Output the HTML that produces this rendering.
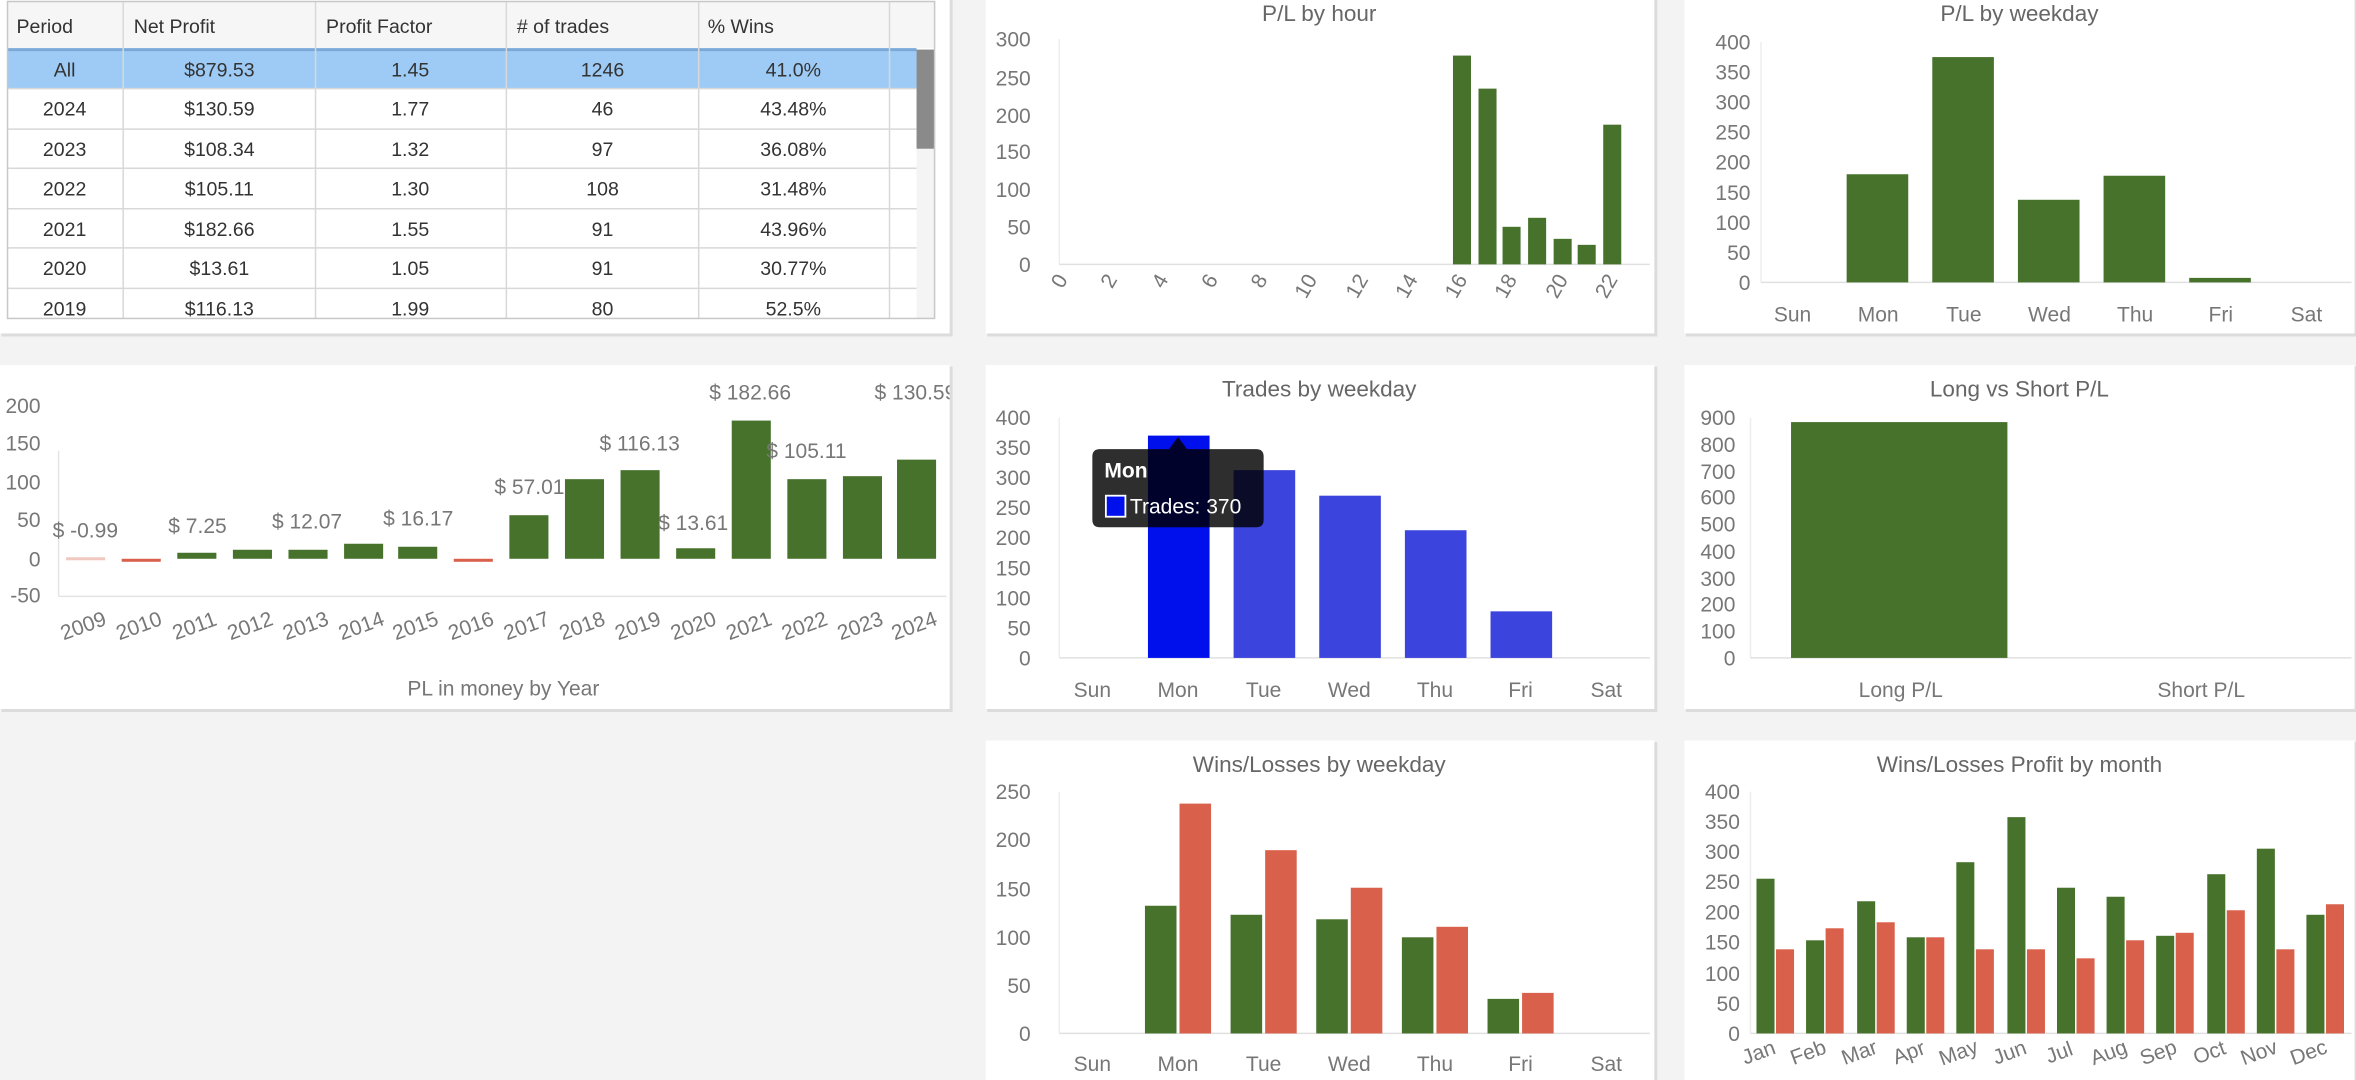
<!DOCTYPE html>
<html><head><meta charset="utf-8"><style>
html,body{margin:0;padding:0;background:#f3f3f3;}
svg{display:block;}
text{font-family:"Liberation Sans Narrow","Liberation Sans",sans-serif;fill:#777;font-size:14px;}
.t{font-family:"Liberation Sans",sans-serif;fill:#333;font-size:13px;}
.ttl{fill:#666;font-size:15px;text-anchor:middle;}
.yl{text-anchor:end;}
.xl{text-anchor:middle;}
.g{fill:#46722b;}
.r{fill:#d9604a;}
.b{fill:#3b44dc;}
.dl{fill:#777;font-size:14px;}
</style></head><body>
<svg width="2356" height="1080" viewBox="0 0 1568 719" preserveAspectRatio="none" xmlns="http://www.w3.org/2000/svg">
<defs><clipPath id="cy"><rect x="0" y="243" width="632" height="229"/></clipPath></defs>
<rect width="1568" height="719" fill="#f3f3f3"/>
<!-- panel shadows -->
<g fill="#dcdcdc">
<rect x="1" y="-2" width="633" height="226"/><rect x="1" y="244" width="633" height="230"/>
<rect x="657" y="-2" width="446" height="226"/><rect x="1122" y="-2" width="447" height="226"/>
<rect x="657" y="244" width="446" height="230"/><rect x="1122" y="244" width="447" height="230"/>
<rect x="657" y="494" width="446" height="240"/><rect x="1122" y="494" width="447" height="240"/>
</g>
<g fill="#fff">
<rect x="0" y="-2" width="632" height="224"/><rect x="0" y="243" width="632" height="229"/>
<rect x="656" y="-2" width="445" height="224"/><rect x="1121" y="-2" width="446" height="224"/>
<rect x="656" y="243" width="445" height="229"/><rect x="1121" y="243" width="446" height="229"/>
<rect x="656" y="493" width="445" height="240"/><rect x="1121" y="493" width="446" height="240"/>
</g>

<!-- TABLE -->
<rect x="5" y="1" width="617" height="31" fill="#f6f6f6"/>
<rect x="5" y="33" width="605" height="26" fill="#9ecbf5"/>
<line x1="5" y1="33" x2="610" y2="33" stroke="#7aa8d8" stroke-width="2"/>
<rect x="610" y="33" width="12" height="179" fill="#f4f4f4"/>
<rect x="610" y="33" width="12" height="66" fill="#8a8a8a"/>
<g stroke="#d8d8d8" stroke-width="1">
<line x1="5" y1="59" x2="610" y2="59"/><line x1="5" y1="86" x2="610" y2="86"/><line x1="5" y1="112" x2="610" y2="112"/>
<line x1="5" y1="139" x2="610" y2="139"/><line x1="5" y1="165" x2="610" y2="165"/><line x1="5" y1="192" x2="610" y2="192"/>
<line x1="82" y1="1" x2="82" y2="212"/><line x1="210" y1="1" x2="210" y2="212"/><line x1="337" y1="1" x2="337" y2="212"/>
<line x1="465" y1="1" x2="465" y2="212"/><line x1="592" y1="1" x2="592" y2="212"/>
</g>
<rect x="5" y="1" width="617" height="211" fill="none" stroke="#c8c8c8"/>
<g class="t">
<text class="t" x="11" y="22">Period</text><text class="t" x="89" y="22">Net Profit</text><text class="t" x="217" y="22">Profit Factor</text><text class="t" x="344" y="22">&#35; of trades</text><text class="t" x="471" y="22">% Wins</text>
</g>
<g class="t" text-anchor="middle">
<text class="t" x="43" y="51">All</text><text class="t" x="146" y="51">$879.53</text><text class="t" x="273" y="51">1.45</text><text class="t" x="401" y="51">1246</text><text class="t" x="528" y="51">41.0%</text>
<text class="t" x="43" y="77">2024</text><text class="t" x="146" y="77">$130.59</text><text class="t" x="273" y="77">1.77</text><text class="t" x="401" y="77">46</text><text class="t" x="528" y="77">43.48%</text>
<text class="t" x="43" y="104">2023</text><text class="t" x="146" y="104">$108.34</text><text class="t" x="273" y="104">1.32</text><text class="t" x="401" y="104">97</text><text class="t" x="528" y="104">36.08%</text>
<text class="t" x="43" y="130">2022</text><text class="t" x="146" y="130">$105.11</text><text class="t" x="273" y="130">1.30</text><text class="t" x="401" y="130">108</text><text class="t" x="528" y="130">31.48%</text>
<text class="t" x="43" y="157">2021</text><text class="t" x="146" y="157">$182.66</text><text class="t" x="273" y="157">1.55</text><text class="t" x="401" y="157">91</text><text class="t" x="528" y="157">43.96%</text>
<text class="t" x="43" y="183">2020</text><text class="t" x="146" y="183">$13.61</text><text class="t" x="273" y="183">1.05</text><text class="t" x="401" y="183">91</text><text class="t" x="528" y="183">30.77%</text>
<text class="t" x="43" y="210">2019</text><text class="t" x="146" y="210">$116.13</text><text class="t" x="273" y="210">1.99</text><text class="t" x="401" y="210">80</text><text class="t" x="528" y="210">52.5%</text>
</g>

<!-- PL by year -->
<g clip-path="url(#cy)">
<g class="yl"><text x="27" y="275">200</text><text x="27" y="300">150</text><text x="27" y="326">100</text><text x="27" y="351">50</text><text x="27" y="377">0</text><text x="27" y="401">-50</text></g>
<line x1="39" y1="300" x2="39" y2="397" stroke="#e4e4e4"/>
<line x1="39" y1="397" x2="630" y2="397" stroke="#e4e4e4"/>
<rect x="44" y="371" width="26" height="2" fill="#f0c8c0"/>
<rect class="r" x="81" y="372" width="26" height="2"/>
<rect class="g" x="118" y="368" width="26" height="4"/>
<rect class="g" x="155" y="366" width="26" height="6"/>
<rect class="g" x="192" y="366" width="26" height="6"/>
<rect class="g" x="229" y="362" width="26" height="10"/>
<rect class="g" x="265" y="364" width="26" height="8"/>
<rect class="r" x="302" y="372" width="26" height="2"/>
<rect class="g" x="339" y="343" width="26" height="29"/>
<rect class="g" x="376" y="319" width="26" height="53"/>
<rect class="g" x="413" y="313" width="26" height="59"/>
<rect class="g" x="450" y="365" width="26" height="7"/>
<rect class="g" x="487" y="280" width="26" height="92"/>
<rect class="g" x="524" y="319" width="26" height="53"/>
<rect class="g" x="561" y="317" width="26" height="55"/>
<rect class="g" x="597" y="306" width="26" height="66"/>
<g class="dl"><text x="35" y="358">$ -0.99</text><text x="112" y="355">$ 7.25</text><text x="181" y="352">$ 12.07</text><text x="255" y="350">$ 16.17</text><text x="329" y="329">$ 57.01</text><text x="399" y="300">$ 116.13</text><text x="438" y="353">$ 13.61</text><text x="472" y="266">$ 182.66</text><text x="510" y="305">$ 105.11</text><text x="582" y="266">$ 130.59</text></g>
<g class="xl">
<text transform="translate(57,421) rotate(-20)">2009</text><text transform="translate(94,421) rotate(-20)">2010</text><text transform="translate(131,421) rotate(-20)">2011</text><text transform="translate(168,421) rotate(-20)">2012</text><text transform="translate(205,421) rotate(-20)">2013</text><text transform="translate(242,421) rotate(-20)">2014</text><text transform="translate(278,421) rotate(-20)">2015</text><text transform="translate(315,421) rotate(-20)">2016</text><text transform="translate(352,421) rotate(-20)">2017</text><text transform="translate(389,421) rotate(-20)">2018</text><text transform="translate(426,421) rotate(-20)">2019</text><text transform="translate(463,421) rotate(-20)">2020</text><text transform="translate(500,421) rotate(-20)">2021</text><text transform="translate(537,421) rotate(-20)">2022</text><text transform="translate(574,421) rotate(-20)">2023</text><text transform="translate(610,421) rotate(-20)">2024</text>
</g>
<text class="xl" x="335" y="463">PL in money by Year</text>
</g>

<!-- P/L by hour -->
<text class="ttl" x="878" y="14">P/L by hour</text>
<g class="yl"><text x="686" y="31">300</text><text x="686" y="57">250</text><text x="686" y="82">200</text><text x="686" y="106">150</text><text x="686" y="131">100</text><text x="686" y="156">50</text><text x="686" y="181">0</text></g>
<line x1="705" y1="26" x2="705" y2="176" stroke="#eee"/>
<line x1="705" y1="176" x2="1098" y2="176" stroke="#e0e0e0"/>
<rect class="g" x="967" y="37" width="12" height="139"/>
<rect class="g" x="984" y="59" width="12" height="117"/>
<rect class="g" x="1000" y="151" width="12" height="25"/>
<rect class="g" x="1017" y="145" width="12" height="31"/>
<rect class="g" x="1034" y="159" width="12" height="17"/>
<rect class="g" x="1050" y="163" width="12" height="13"/>
<rect class="g" x="1067" y="83" width="12" height="93"/>
<g text-anchor="end">
<text transform="translate(711,186) rotate(-60)">0</text><text transform="translate(744,186) rotate(-60)">2</text><text transform="translate(778,186) rotate(-60)">4</text><text transform="translate(811,186) rotate(-60)">6</text><text transform="translate(844,186) rotate(-60)">8</text><text transform="translate(877,186) rotate(-60)">10</text><text transform="translate(911,186) rotate(-60)">12</text><text transform="translate(944,186) rotate(-60)">14</text><text transform="translate(977,186) rotate(-60)">16</text><text transform="translate(1010,186) rotate(-60)">18</text><text transform="translate(1044,186) rotate(-60)">20</text><text transform="translate(1077,186) rotate(-60)">22</text>
</g>

<!-- P/L by weekday -->
<text class="ttl" x="1344" y="14">P/L by weekday</text>
<g class="yl"><text x="1165" y="33">400</text><text x="1165" y="53">350</text><text x="1165" y="73">300</text><text x="1165" y="93">250</text><text x="1165" y="113">200</text><text x="1165" y="133">150</text><text x="1165" y="153">100</text><text x="1165" y="173">50</text><text x="1165" y="193">0</text></g>
<line x1="1172" y1="28" x2="1172" y2="188" stroke="#eee"/>
<line x1="1172" y1="188" x2="1565" y2="188" stroke="#e0e0e0"/>
<rect class="g" x="1229" y="116" width="41" height="72"/>
<rect class="g" x="1286" y="38" width="41" height="150"/>
<rect class="g" x="1343" y="133" width="41" height="55"/>
<rect class="g" x="1400" y="117" width="41" height="71"/>
<rect class="g" x="1457" y="185" width="41" height="3"/>
<g class="xl"><text x="1193" y="214">Sun</text><text x="1250" y="214">Mon</text><text x="1307" y="214">Tue</text><text x="1364" y="214">Wed</text><text x="1421" y="214">Thu</text><text x="1478" y="214">Fri</text><text x="1535" y="214">Sat</text></g>

<!-- Trades by weekday -->
<text class="ttl" x="878" y="264">Trades by weekday</text>
<g class="yl"><text x="686" y="283">400</text><text x="686" y="303">350</text><text x="686" y="323">300</text><text x="686" y="343">250</text><text x="686" y="363">200</text><text x="686" y="383">150</text><text x="686" y="403">100</text><text x="686" y="423">50</text><text x="686" y="443">0</text></g>
<line x1="705" y1="278" x2="705" y2="438" stroke="#eee"/>
<line x1="705" y1="438" x2="1098" y2="438" stroke="#e0e0e0"/>
<rect x="764" y="290" width="41" height="148" fill="#0010ec"/>
<rect class="b" x="821" y="313" width="41" height="125"/>
<rect class="b" x="878" y="330" width="41" height="108"/>
<rect class="b" x="935" y="353" width="41" height="85"/>
<rect class="b" x="992" y="407" width="41" height="31"/>
<g class="xl"><text x="727" y="464">Sun</text><text x="784" y="464">Mon</text><text x="841" y="464">Tue</text><text x="898" y="464">Wed</text><text x="955" y="464">Thu</text><text x="1012" y="464">Fri</text><text x="1069" y="464">Sat</text></g>
<path d="M732,299 L778,299 L784,291 L790,299 L836,299 Q841,299 841,304 L841,346 Q841,351 836,351 L732,351 Q727,351 727,346 L727,304 Q727,299 732,299 Z" fill="rgba(0,0,0,0.82)"/>
<text x="735" y="318" style="fill:#fff;font-weight:bold;font-size:14px;font-family:'Liberation Sans',sans-serif">Mon</text>
<rect x="736" y="330" width="13" height="14" fill="#0010ec" stroke="#fff" stroke-width="1.2"/>
<text x="752" y="342" style="fill:#fff;font-size:14px;font-family:'Liberation Sans',sans-serif">Trades: 370</text>

<!-- Long vs Short -->
<text class="ttl" x="1344" y="264">Long vs Short P/L</text>
<g class="yl"><text x="1155" y="283">900</text><text x="1155" y="301">800</text><text x="1155" y="319">700</text><text x="1155" y="336">600</text><text x="1155" y="354">500</text><text x="1155" y="372">400</text><text x="1155" y="390">300</text><text x="1155" y="407">200</text><text x="1155" y="425">100</text><text x="1155" y="443">0</text></g>
<line x1="1165" y1="278" x2="1165" y2="438" stroke="#eee"/>
<line x1="1165" y1="438" x2="1565" y2="438" stroke="#e0e0e0"/>
<rect class="g" x="1192" y="281" width="144" height="157"/>
<g class="xl"><text x="1265" y="464">Long P/L</text><text x="1465" y="464">Short P/L</text></g>

<!-- Wins/Losses by weekday -->
<text class="ttl" x="878" y="514">Wins/Losses by weekday</text>
<g class="yl"><text x="686" y="532">250</text><text x="686" y="564">200</text><text x="686" y="597">150</text><text x="686" y="629">100</text><text x="686" y="661">50</text><text x="686" y="693">0</text></g>
<line x1="705" y1="527" x2="705" y2="688" stroke="#eee"/>
<line x1="705" y1="688" x2="1098" y2="688" stroke="#e0e0e0"/>
<rect class="g" x="762" y="603" width="21" height="85"/><rect class="r" x="785" y="535" width="21" height="153"/>
<rect class="g" x="819" y="609" width="21" height="79"/><rect class="r" x="842" y="566" width="21" height="122"/>
<rect class="g" x="876" y="612" width="21" height="76"/><rect class="r" x="899" y="591" width="21" height="97"/>
<rect class="g" x="933" y="624" width="21" height="64"/><rect class="r" x="956" y="617" width="21" height="71"/>
<rect class="g" x="990" y="665" width="21" height="23"/><rect class="r" x="1013" y="661" width="21" height="27"/>
<g class="xl"><text x="727" y="713">Sun</text><text x="784" y="713">Mon</text><text x="841" y="713">Tue</text><text x="898" y="713">Wed</text><text x="955" y="713">Thu</text><text x="1012" y="713">Fri</text><text x="1069" y="713">Sat</text></g>

<!-- Wins/Losses Profit by month -->
<text class="ttl" x="1344" y="514">Wins/Losses Profit by month</text>
<g class="yl"><text x="1158" y="532">400</text><text x="1158" y="552">350</text><text x="1158" y="572">300</text><text x="1158" y="592">250</text><text x="1158" y="612">200</text><text x="1158" y="632">150</text><text x="1158" y="653">100</text><text x="1158" y="673">50</text><text x="1158" y="693">0</text></g>
<line x1="1165" y1="527" x2="1165" y2="688" stroke="#eee"/>
<line x1="1165" y1="688" x2="1565" y2="688" stroke="#e0e0e0"/>
<rect class="g" x="1169" y="585" width="12" height="103"/><rect class="r" x="1182" y="632" width="12" height="56"/>
<rect class="g" x="1202" y="626" width="12" height="62"/><rect class="r" x="1215" y="618" width="12" height="70"/>
<rect class="g" x="1236" y="600" width="12" height="88"/><rect class="r" x="1249" y="614" width="12" height="74"/>
<rect class="g" x="1269" y="624" width="12" height="64"/><rect class="r" x="1282" y="624" width="12" height="64"/>
<rect class="g" x="1302" y="574" width="12" height="114"/><rect class="r" x="1315" y="632" width="12" height="56"/>
<rect class="g" x="1336" y="544" width="12" height="144"/><rect class="r" x="1349" y="632" width="12" height="56"/>
<rect class="g" x="1369" y="591" width="12" height="97"/><rect class="r" x="1382" y="638" width="12" height="50"/>
<rect class="g" x="1402" y="597" width="12" height="91"/><rect class="r" x="1415" y="626" width="12" height="62"/>
<rect class="g" x="1435" y="623" width="12" height="65"/><rect class="r" x="1448" y="621" width="12" height="67"/>
<rect class="g" x="1469" y="582" width="12" height="106"/><rect class="r" x="1482" y="606" width="12" height="82"/>
<rect class="g" x="1502" y="565" width="12" height="123"/><rect class="r" x="1515" y="632" width="12" height="56"/>
<rect class="g" x="1535" y="609" width="12" height="79"/><rect class="r" x="1548" y="602" width="12" height="86"/>
<g class="xl">
<text transform="translate(1172,705) rotate(-20)">Jan</text><text transform="translate(1205,705) rotate(-20)">Feb</text><text transform="translate(1239,705) rotate(-20)">Mar</text><text transform="translate(1272,705) rotate(-20)">Apr</text><text transform="translate(1305,705) rotate(-20)">May</text><text transform="translate(1339,705) rotate(-20)">Jun</text><text transform="translate(1372,705) rotate(-20)">Jul</text><text transform="translate(1405,705) rotate(-20)">Aug</text><text transform="translate(1438,705) rotate(-20)">Sep</text><text transform="translate(1472,705) rotate(-20)">Oct</text><text transform="translate(1505,705) rotate(-20)">Nov</text><text transform="translate(1538,705) rotate(-20)">Dec</text>
</g>
</svg>
</body></html>
